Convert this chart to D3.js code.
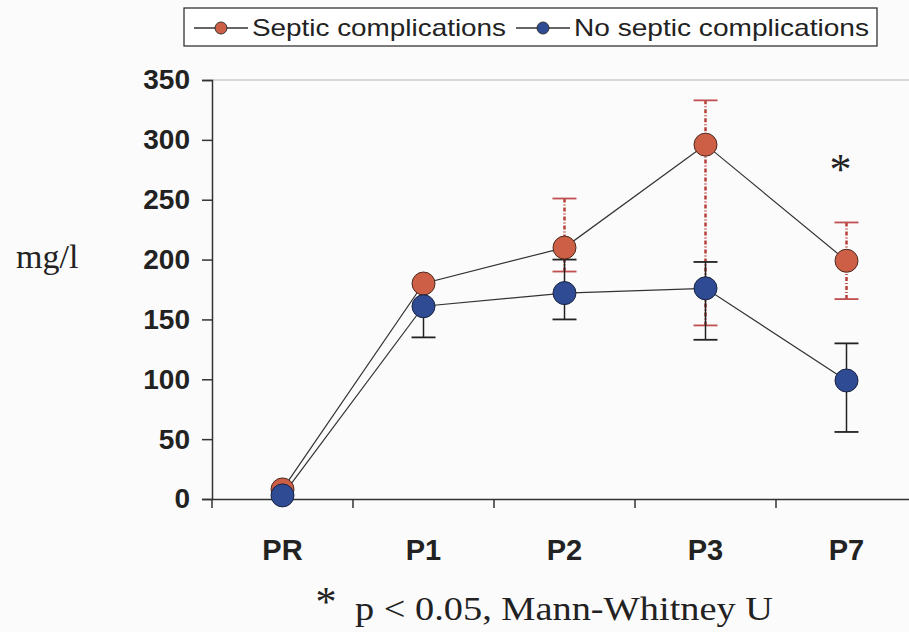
<!DOCTYPE html>
<html><head><meta charset="utf-8">
<script src="https://cdn.jsdelivr.net/npm/d3@7/dist/d3.min.js"></script>
<style>body{margin:0;background:#fbfbfb;} svg{display:block;}</style>
</head><body>
<svg id="c" width="909" height="632"></svg>
<script>
const categories = ["PR","P1","P2","P3","P7"];
const septic = [8, 180, 210, 296, 199];
const septicUpper = [null, null, 251, 333, 231];
const septicLower = [null, null, 190, 145, 167];
const noSeptic = [3, 161, 172, 176, 99];
const noSepticUpper = [null, null, 200, 198, 130];
const noSepticLower = [null, 135, 150, 133, 56];
const yTicks = [0,50,100,150,200,250,300,350];
const seriesNames = ["Septic complications","No septic complications"];
const significant = ["P7"];

const svg = d3.select("#c");
const x = d3.scaleBand().domain(categories).range([212, 917]);
const y = d3.scaleLinear().domain([0,350]).range([499, 80]);
const cx = c => x(c) + x.bandwidth()/2;

// top border of plot
svg.append("line").attr("x1",212).attr("x2",909).attr("y1",y(350)).attr("y2",y(350))
  .attr("stroke","#b5b5b5").attr("stroke-width",1.2);

// y axis
const ya = svg.append("g").attr("transform","translate(212,0)")
  .call(d3.axisLeft(y).tickValues(yTicks).tickSize(10).tickPadding(12));
ya.select(".domain").attr("stroke","#333").attr("stroke-width",1.5);
ya.selectAll(".tick line").attr("stroke","#333").attr("stroke-width",1.5);
ya.selectAll(".tick text").attr("font-family","Liberation Sans, Arial, sans-serif")
  .attr("font-weight","bold").attr("font-size",28).attr("fill","#222");

// x axis
const xa = svg.append("g").attr("transform",`translate(0,${y(0)})`)
  .call(d3.axisBottom(x).tickSize(0).tickPadding(40));
xa.select(".domain").attr("stroke","#333").attr("stroke-width",1.5);
xa.selectAll(".tick text").attr("font-family","Liberation Sans, Arial, sans-serif")
  .attr("font-weight","bold").attr("font-size",29).attr("fill","#222");
// tick marks at band boundaries
svg.append("g").selectAll("line").data(categories).join("line")
  .attr("x1",d=>x(d)).attr("x2",d=>x(d)).attr("y1",y(0)).attr("y2",y(0)+9)
  .attr("stroke","#333").attr("stroke-width",1.5);

// y label
svg.append("text").attr("x",16).attr("y",268).text("mg/l")
  .attr("font-family","Liberation Serif, Times New Roman, serif").attr("font-size",34).attr("fill","#222");

const line = d3.line().x((d,i)=>cx(categories[i])).y(d=>y(d));

function drawErr(up, lo, vals, dotted, color, capColor){
  const g = svg.append("g");
  const seg = (px, v1, v2) => g.append("line").attr("x1",px).attr("x2",px).attr("y1",y(v1)).attr("y2",y(v2))
      .attr("stroke",color).attr("stroke-width",dotted?2.5:1.5).attr("stroke-dasharray",dotted?"4,2,1,2":null);
  const cap = (px, v) => g.append("line").attr("x1",px-12).attr("x2",px+12).attr("y1",y(v)).attr("y2",y(v))
      .attr("stroke",capColor).attr("stroke-width",1.8);
  categories.forEach((c,i)=>{
    const px = cx(c);
    if (up[i]!=null){ seg(px, up[i], vals[i]); cap(px, up[i]); }
    if (lo[i]!=null){ seg(px, lo[i], vals[i]); cap(px, lo[i]); }
  });
}

// lines
svg.append("path").datum(noSeptic).attr("d",line).attr("fill","none").attr("stroke","#333").attr("stroke-width",1.2);
svg.append("path").datum(septic).attr("d",line).attr("fill","none").attr("stroke","#333").attr("stroke-width",1.2);

// error bars
drawErr(septicUpper, septicLower, septic, true, "#b8403a", "#c05050");
drawErr(noSepticUpper, noSepticLower, noSeptic, false, "#222", "#222");

// markers
svg.append("g").selectAll("circle").data(septic).join("circle")
  .attr("cx",(d,i)=>cx(categories[i])).attr("cy",d=>y(d)).attr("r",11.5)
  .attr("fill","#cc5f45").attr("stroke","#4a2a20").attr("stroke-width",1);
svg.append("g").selectAll("circle").data(noSeptic).join("circle")
  .attr("cx",(d,i)=>cx(categories[i])).attr("cy",d=>y(d)).attr("r",11.5)
  .attr("fill","#2e4b93").attr("stroke","#1a2340").attr("stroke-width",1);

// significance star
significant.forEach(c=>{
  svg.append("text").attr("x",cx(c)-6).attr("y",184).attr("text-anchor","middle").text("*")
    .attr("font-family","Liberation Serif, Times New Roman, serif").attr("font-size",44).attr("fill","#222");
});

// footnote
svg.append("text").attr("x",326).attr("y",616).attr("text-anchor","middle").text("*")
  .attr("font-family","Liberation Serif, Times New Roman, serif").attr("font-size",42).attr("fill","#222");
svg.append("text").attr("x",355).attr("y",620).text("p < 0.05, Mann-Whitney U")
  .attr("font-family","Liberation Serif, Times New Roman, serif").attr("font-size",34).attr("fill","#222")
  .attr("textLength",418).attr("lengthAdjust","spacingAndGlyphs");

// legend
const lg = svg.append("g");
lg.append("rect").attr("x",184).attr("y",8).attr("width",693).attr("height",38)
  .attr("fill","#fff").attr("stroke","#333").attr("stroke-width",1.3);
const items = [
  {name: seriesNames[0], fill:"#cc5f45", lx:194, tx:252, tw:254},
  {name: seriesNames[1], fill:"#2e4b93", lx:516, tx:574, tw:295}
];
items.forEach(it=>{
  lg.append("line").attr("x1",it.lx).attr("x2",it.lx+54).attr("y1",28).attr("y2",28).attr("stroke","#333").attr("stroke-width",1.3);
  lg.append("circle").attr("cx",it.lx+27).attr("cy",28).attr("r",6).attr("fill",it.fill).attr("stroke","#333").attr("stroke-width",1);
  lg.append("text").attr("x",it.tx).attr("y",36).text(it.name)
    .attr("font-family","Liberation Sans, Arial, sans-serif").attr("font-size",24).attr("fill","#222")
    .attr("textLength",it.tw).attr("lengthAdjust","spacingAndGlyphs");
});
</script>
</body></html>
